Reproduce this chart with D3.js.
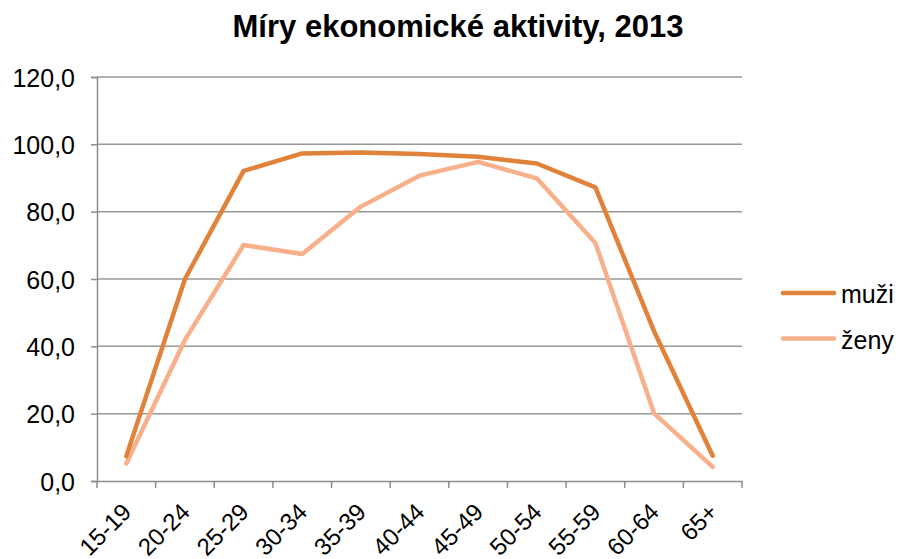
<!DOCTYPE html>
<html><head><meta charset="utf-8">
<script src="https://cdn.jsdelivr.net/npm/d3@7/dist/d3.min.js"></script>
<style>body{margin:0;background:#fff}svg{display:block}</style>
</head><body>
<svg id="c" width="898" height="559"></svg>
<script>
const categories = ["15-19","20-24","25-29","30-34","35-39","40-44","45-49","50-54","55-59","60-64","65+"];
const muzi = [7.4, 60.0, 92.1, 97.3, 97.6, 97.1, 96.3, 94.3, 87.2, 44.5, 7.5];
const zeny = [5.2, 41.9, 70.1, 67.4, 81.5, 90.7, 94.8, 89.9, 70.7, 20.1, 4.2];
const yTicks = [0, 20, 40, 60, 80, 100, 120];
const seriesNames = ["muži", "ženy"];
const colors = ["#E0823A", "#F8B08A"];

const svg = d3.select("#c");
const font = "'Liberation Sans', Arial, sans-serif";
const x = d3.scaleBand().domain(categories).range([97, 742]);
const y = d3.scaleLinear().domain([0, 120]).range([481, 77]);

// title
svg.append("text").attr("x", 458).attr("y", 37).attr("text-anchor", "middle")
  .attr("font-family", font).attr("font-weight", "bold").attr("font-size", 31)
  .text("Míry ekonomické aktivity, 2013");

// gridlines
svg.append("g").selectAll("line").data(yTicks.filter(d => d > 0)).join("line")
  .attr("x1", 97).attr("x2", 742).attr("y1", d => y(d)).attr("y2", d => y(d))
  .attr("stroke", "#989898").attr("stroke-width", 1.5);

// y axis
const yAxis = svg.append("g").attr("transform", "translate(97,0)")
  .call(d3.axisLeft(y).tickValues(yTicks).tickSize(6).tickPadding(16)
    .tickFormat(d => d3.format(".1f")(d).replace(".", ",")));
yAxis.select(".domain").attr("stroke", "#8c8c8c").attr("stroke-width", 1.5);
yAxis.selectAll(".tick line").attr("stroke", "#8c8c8c").attr("stroke-width", 1.5);
yAxis.selectAll("text").attr("font-family", font).attr("font-size", 25).attr("fill", "#000")
  .attr("dy", "0.36em");

// x axis
const xAxis = svg.append("g").attr("transform", "translate(0,481)")
  .call(d3.axisBottom(x).tickSize(0).tickFormat(""));
xAxis.select(".domain").attr("stroke", "#8c8c8c").attr("stroke-width", 1.5);
const edges = categories.map(c => x(c)).concat([x.range()[1]]);
svg.append("g").selectAll("line").data(edges).join("line")
  .attr("x1", d => d).attr("x2", d => d).attr("y1", 481).attr("y2", 488)
  .attr("stroke", "#8c8c8c").attr("stroke-width", 1.5);
svg.append("g").selectAll("text").data(categories).join("text")
  .attr("transform", d => `translate(${x(d) + x.bandwidth() / 2 + 2},${509}) rotate(-45)`)
  .attr("text-anchor", "end").attr("dominant-baseline", "middle")
  .attr("font-family", font).attr("font-size", 24).text(d => d);

// lines (ženy below, muži on top)
const line = d3.line().x((d, i) => x(categories[i]) + x.bandwidth() / 2).y(d => y(d));
[[zeny, colors[1]], [muzi, colors[0]]].forEach(([s, c]) => {
  svg.append("path").datum(s).attr("d", line).attr("fill", "none")
    .attr("stroke", c).attr("stroke-width", 4.5)
    .attr("stroke-linejoin", "round").attr("stroke-linecap", "round");
});

// legend
seriesNames.forEach((n, k) => {
  const ly = 293 + k * 45.5;
  svg.append("line").attr("x1", 783).attr("x2", 834).attr("y1", ly).attr("y2", ly)
    .attr("stroke", colors[k]).attr("stroke-width", 4.5).attr("stroke-linecap", "round");
  svg.append("text").attr("x", 841).attr("y", ly + 10).attr("font-family", font)
    .attr("font-size", 25).text(n);
});
</script>
</body></html>
